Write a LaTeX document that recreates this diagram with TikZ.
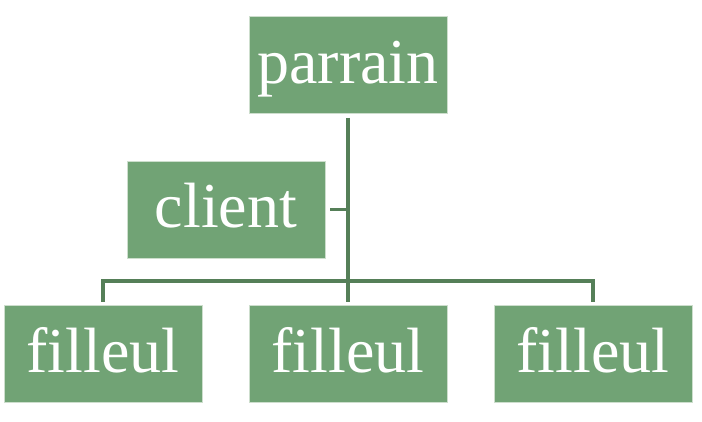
\documentclass[tikz,border=0pt]{standalone}
\usepackage{fontspec}
\setmainfont{Liberation Serif}
\definecolor{boxfill}{RGB}{113,163,117}
\definecolor{boxline}{RGB}{205,222,205}
\definecolor{connc}{RGB}{85,127,88}
\begin{document}
\begin{tikzpicture}[x=1pt,y=1pt,
  orgbox/.style={rectangle, fill=boxfill, draw=boxline, line width=0.7pt,
    inner sep=0pt, minimum width=198pt, text height=67pt, text depth=30pt,
    text=white, font=\fontsize{64}{64}\selectfont},
  conn/.style={draw=connc, line width=3.5pt}]
\useasboundingbox (0,0) rectangle (702,421);
\node[orgbox] (parrain) at (348,356) {parrain};
\node[orgbox] (client) at (226,211.5) {client};
\node[orgbox] (f1) at (103,67.5) {filleul};
\node[orgbox] (f2) at (348,67.5) {filleul};
\node[orgbox] (f3) at (593,67.5) {filleul};
\coordinate (hub) at (348,140);
\draw[conn, shorten <=4pt, shorten >=3pt] (parrain.south) -- (f2.north);
\draw[conn, shorten <=3pt, shorten >=3pt] (f1.north) |- (hub) -| (f3.north);
\draw[conn, shorten <=5pt] (client.east) -- (client.east -| parrain.south);
\end{tikzpicture}
\end{document}
